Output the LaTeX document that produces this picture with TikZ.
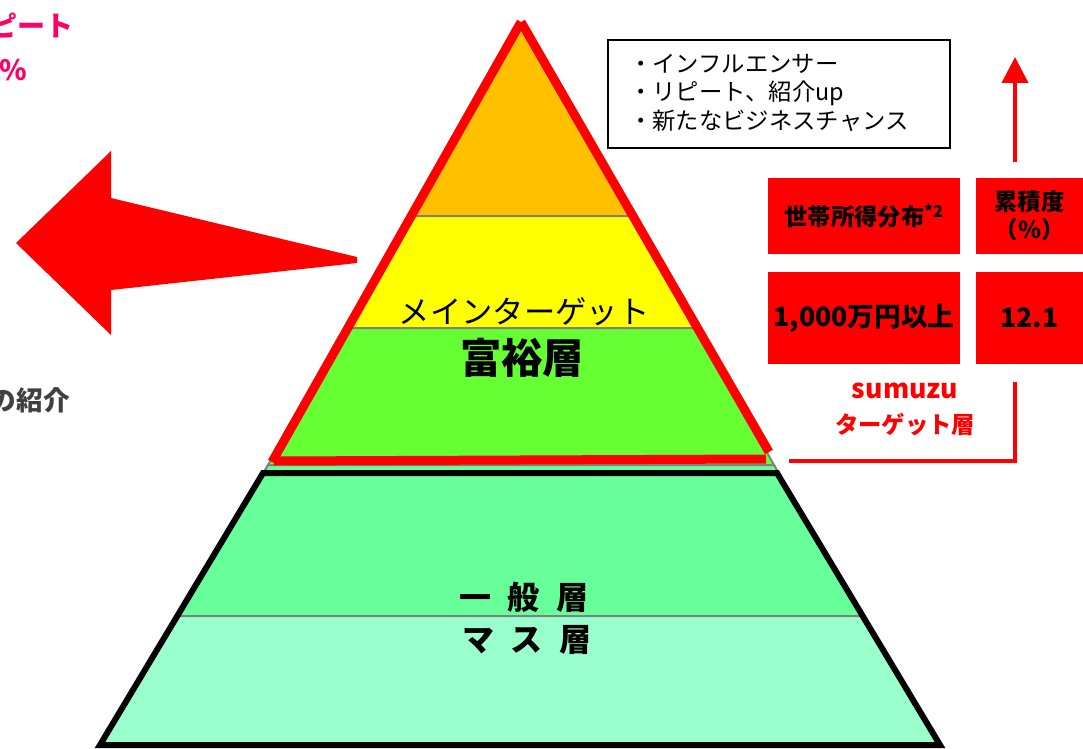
\documentclass[tikz,border=0pt]{standalone}
\usepackage{fontspec}
\setmainfont{Noto Sans CJK JP}
\usetikzlibrary{arrows.meta}
\definecolor{lOrange}{HTML}{FFC000}
\definecolor{lYellow}{HTML}{FFFF00}
\definecolor{lGreen}{HTML}{66FF33}
\definecolor{lLight}{HTML}{66FF99}
\definecolor{lMint}{HTML}{99FFCC}
\definecolor{pinkT}{HTML}{FF0066}
\definecolor{grayT}{HTML}{404040}
\definecolor{bandLine}{HTML}{808080}
\tikzset{
  layer/.style={draw=bandLine, line width=1.5pt},
  redcell/.style={fill=red, draw=none, inner sep=0pt, align=center, font=\bfseries\fontsize{17.5}{21}\selectfont},
  redline/.style={draw=red, line width=6.75pt, line cap=butt},
  txt/.style={inner sep=0pt, align=center},
}
\begin{document}
\begin{tikzpicture}[x=0.75pt,y=-0.75pt]
\useasboundingbox (0,0) rectangle (1083,749);
\begin{scope}
\clip (0,0) rectangle (1083,749);
% pyramid layers
\draw[layer, fill=lOrange] (521,26) -- (633,216) -- (412,216) -- cycle;
\draw[layer, fill=lYellow] (412,216) -- (633,216) -- (697,328) -- (348,328) -- cycle;
\draw[layer, fill=lGreen] (348,328) -- (697,328) -- (774,465) -- (268,465) -- cycle;
\draw[layer, fill=lLight] (268,465) -- (774,465) -- (862.6,616) -- (177.4,616) -- cycle;
\draw[layer, fill=lMint] (177.4,616) -- (862.6,616) -- (940,745) -- (100,745) -- cycle;
% black outline of lower part
\draw[black, line width=4.5pt, line join=miter] (263,473) -- (777,473) -- (940,745) -- (100,745) -- cycle;
% red outline of upper part
\coordinate (apex) at (521,22);
\coordinate (bl) at (272,462);
\coordinate (br) at (769,452);
\draw[redline] (apex) -- (bl);
\draw[redline] (apex) -- (br);
\draw[redline] (274,461) -- (766,459);
% left big arrow
\fill[red] (16,243) -- (111,151) -- (111,198) -- (357,257) -- (357,263) -- (111,290) -- (111,335) -- cycle;
% cut-off texts at left
\node[txt, anchor=east, text=pinkT, font=\bfseries\fontsize{21}{24}\selectfont] (t1) at (74,25) {ピート};
\node[txt, anchor=east, text=pinkT, font=\bfseries\fontsize{21}{24}\selectfont] (t2) at (27,70) {\%};
\node[txt, anchor=east, text=grayT, font=\bfseries\fontsize{20}{22}\selectfont] (t3) at (70,400) {の紹介};
\end{scope}
% pyramid texts
\node[txt, font=\fontsize{23.5}{26}\selectfont] (mt) at (524,312) {メインターゲット};
\node[txt, font=\bfseries\fontsize{31}{34}\selectfont] (fy) at (522,358) {富裕層};
\node[txt, font=\bfseries\fontsize{24}{28}\selectfont] (ip) at (524,597) {\spaceskip=12.75pt 一 般 層};
\node[txt, font=\bfseries\fontsize{24}{28}\selectfont] (ms) at (527,640) {\spaceskip=12.75pt マ ス 層};
% info box
\node[draw=black, line width=1.5pt, minimum width=342*0.75pt, minimum height=108*0.75pt, inner sep=0pt] (box) at (779,94) {};
\node[txt, anchor=west, font=\fontsize{17.5}{21.4}\selectfont] (b1) at (629,64) {・インフルエンサー};
\node[txt, anchor=west, font=\fontsize{17.5}{21.4}\selectfont] (b2) at (629,93) {・リピート、紹介up};
\node[txt, anchor=west, font=\fontsize{17.5}{21.4}\selectfont] (b3) at (629,121) {・新たなビジネスチャンス};
% red table
\node[redcell, minimum width=192*0.75pt, minimum height=76*0.75pt] (c1) at (864,216) {世帯所得分布\textsuperscript{*2}};
\node[redcell, minimum width=107*0.75pt, minimum height=76*0.75pt] (c2) at (1029.5,216) {累積度\\（\%）};
\node[redcell, minimum width=192*0.75pt, minimum height=92*0.75pt, font=\bfseries\fontsize{20}{24}\selectfont] (c3) at (864,318) {1,000万円以上};
\node[redcell, minimum width=107*0.75pt, minimum height=92*0.75pt, font=\bfseries\fontsize{20}{24}\selectfont] (c4) at (1029.5,318) {12.1};
% sumuzu target
\node[txt, text=red, font=\bfseries\fontsize{20}{24}\selectfont] (s1) at (905,391) {sumuzu};
\node[txt, text=red, font=\bfseries\fontsize{17.5}{21}\selectfont] (s2) at (905,425) {ターゲット層};
\coordinate (brA) at (1015,382);
\coordinate (brB) at (1015,461);
\coordinate (brC) at (789,461);
\draw[red, line width=2.5pt, line join=miter] (brA) -- (brB) -- (brC);
% up arrow
\coordinate (upS) at (1015,162);
\coordinate (upE) at (1015,57);
\draw[red, line width=3pt, -{Triangle[width=19.5pt,length=19.5pt]}] (upS) -- (upE);
\end{tikzpicture}
\end{document}
